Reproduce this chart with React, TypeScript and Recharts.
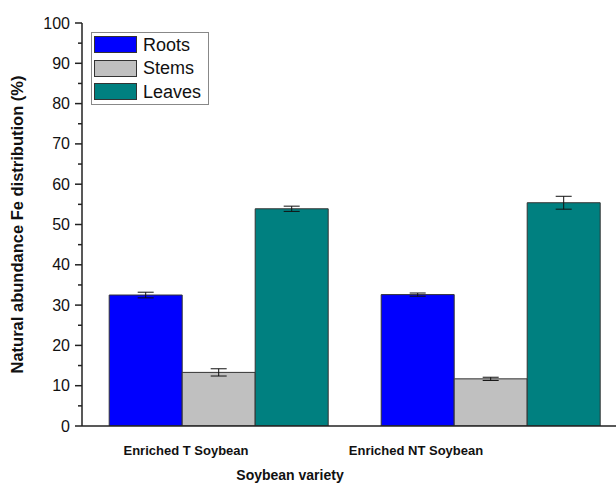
import React from 'react';
import { BarChart, Bar, XAxis, YAxis, ErrorBar, Legend, Label } from 'recharts';

const categories = ['Enriched T Soybean', 'Enriched NT Soybean'];
const roots = [32.5, 32.6];
const rootsErr = [0.7, 0.4];
const stems = [13.3, 11.7];
const stemsErr = [0.9, 0.4];
const leaves = [53.9, 55.4];
const leavesErr = [0.65, 1.6];
const yTicks = [0, 5, 10, 15, 20, 25, 30, 35, 40, 45, 50, 55, 60, 65, 70, 75, 80, 85, 90, 95, 100];

const data = categories.map((c, i) => ({
  name: c,
  roots: roots[i],
  rootsErr: rootsErr[i],
  stems: stems[i],
  stemsErr: stemsErr[i],
  leaves: leaves[i],
  leavesErr: leavesErr[i],
}));

const FONT = "Arial, 'Liberation Sans', sans-serif";
const labelShift = [-32, -74];

const YTick = (props: any) => {
  const { x, y, payload } = props;
  const axisX = x + 10;
  const v = payload.value;
  const major = v % 10 === 0;
  return (
    <g>
      <line x1={axisX - (major ? 7 : 4)} x2={axisX} y1={y} y2={y} stroke="#222" strokeWidth={1.5} />
      {major && (
        <text x={axisX - 12} y={y} textAnchor="end" dominantBaseline="central" fontSize={16} fontFamily={FONT} fill="#111">
          {v}
        </text>
      )}
    </g>
  );
};

const XTick = (props: any) => {
  const { x, y, payload, index } = props;
  return (
    <text x={x + (labelShift[index] ?? 0)} y={y + 21} textAnchor="middle" fontSize={13} fontWeight="bold" fontFamily={FONT} fill="#111">
      {payload.value}
    </text>
  );
};

const legendItems = [
  { name: 'Roots', color: '#0000FF' },
  { name: 'Stems', color: '#C0C0C0' },
  { name: 'Leaves', color: '#008080' },
];

const LegendBox = () => (
  <div style={{ border: '1px solid #888', background: '#fff', padding: '0 6px 0 2px', fontFamily: FONT, width: 118, boxSizing: 'border-box' }}>
    {legendItems.map((it) => (
      <div key={it.name} style={{ display: 'flex', alignItems: 'center', height: 23.5 }}>
        <div style={{ width: 41, height: 15, background: it.color, border: '1px solid #333', marginRight: 6 }} />
        <span style={{ fontSize: 18, color: '#111', lineHeight: '18px' }}>{it.name}</span>
      </div>
    ))}
  </div>
);

export default function App() {
  return (
    <div style={{ position: 'absolute', left: 0, top: 0, width: 616, height: 483, overflow: 'hidden', background: '#fff' }}>
      <BarChart
        width={640}
        height={483}
        data={data}
        margin={{ top: 23, right: 14, left: 0, bottom: 0 }}
        barCategoryGap="10%"
        barGap={0}
      >
        <XAxis
          dataKey="name"
          height={57}
          tick={<XTick />}
          tickLine={false}
          axisLine={{ stroke: '#222', strokeWidth: 1.5 }}
          interval={0}
        >
          <Label
            value="Soybean variety"
            position="insideBottom"
            offset={3}
            dx={-64}
            style={{ fontSize: 14, fontWeight: 'bold', fontFamily: FONT, fill: '#111' }}
          />
        </XAxis>
        <XAxis
          xAxisId="top"
          dataKey="name"
          orientation="top"
          height={0}
          tick={false}
          tickLine={false}
          axisLine={{ stroke: '#222', strokeWidth: 1.5 }}
        />
        <YAxis
          width={82}
          domain={[0, 100]}
          ticks={yTicks}
          interval={0}
          tick={<YTick />}
          tickLine={false}
          tickSize={7}
          tickMargin={3}
          axisLine={{ stroke: '#222', strokeWidth: 1.5 }}
          allowDataOverflow
        >
          <Label
            value="Natural abundance Fe distribution (%)"
            angle={-90}
            position="insideLeft"
            offset={17}
            style={{ textAnchor: 'middle', fontSize: 16.5, fontWeight: 'bold', fontFamily: FONT, fill: '#111' }}
          />
        </YAxis>
        <Legend
          layout="vertical"
          align="center"
          verticalAlign="middle"
          content={<LegendBox />}
          wrapperStyle={{ left: 91, top: 32, width: 'auto', height: 'auto' }}
        />
        <Bar dataKey="roots" name="Roots" fill="#0000FF" stroke="#333" strokeWidth={1} isAnimationActive={false}>
          <ErrorBar dataKey="rootsErr" width={8} stroke="#111" strokeWidth={1} />
        </Bar>
        <Bar dataKey="stems" name="Stems" fill="#C0C0C0" stroke="#333" strokeWidth={1} isAnimationActive={false}>
          <ErrorBar dataKey="stemsErr" width={8} stroke="#111" strokeWidth={1} />
        </Bar>
        <Bar dataKey="leaves" name="Leaves" fill="#008080" stroke="#333" strokeWidth={1} isAnimationActive={false}>
          <ErrorBar dataKey="leavesErr" width={8} stroke="#111" strokeWidth={1} />
        </Bar>
      </BarChart>
    </div>
  );
}
